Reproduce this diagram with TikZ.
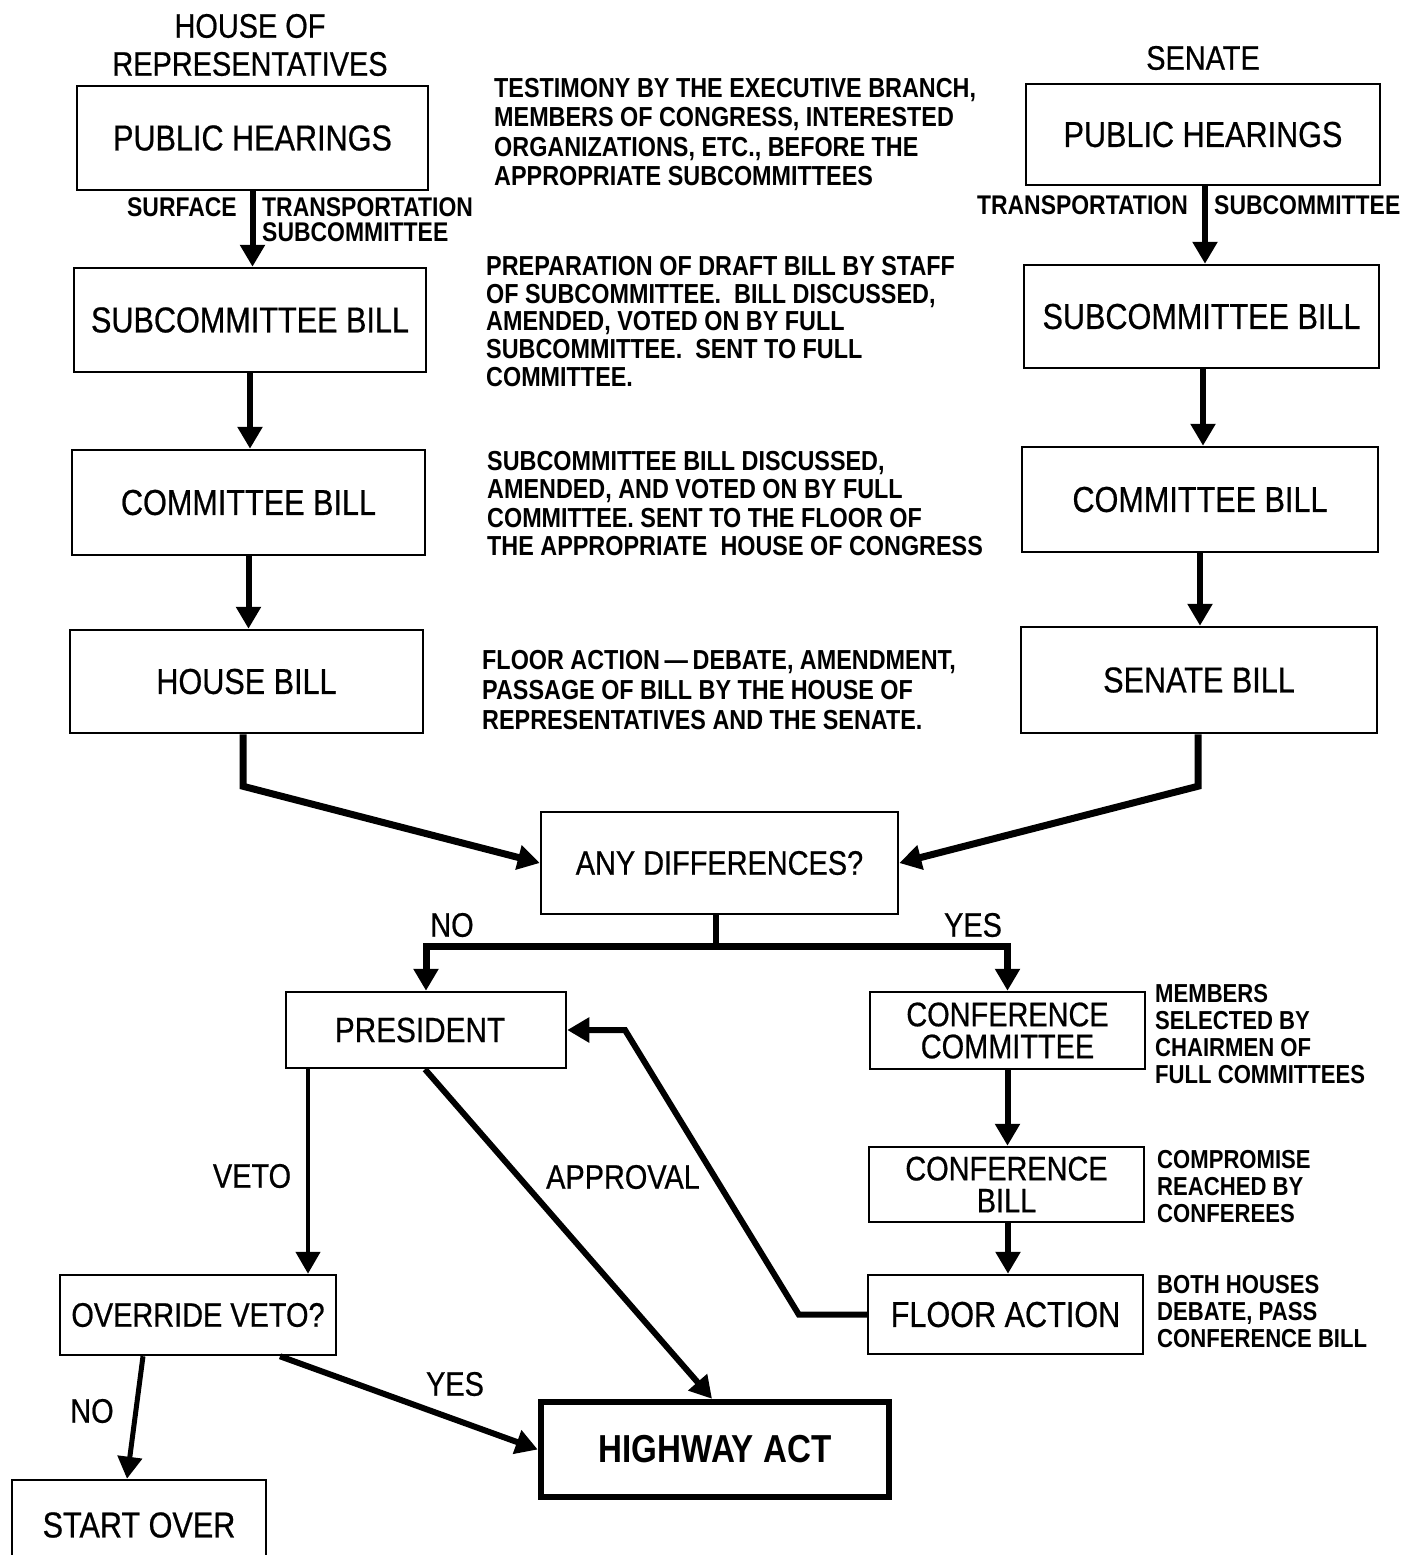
\documentclass[tikz,border=0pt]{standalone}
\usepackage{fontspec}
\setmainfont{Liberation Sans}
\newfontfamily\cond[FakeStretch=0.85]{Liberation Sans}
\newfontfamily\condm[FakeStretch=0.85,FakeBold=0.6]{Liberation Sans}
\usetikzlibrary{arrows.meta}
\tikzset{
  box/.style={draw, line width=2.5pt, inner sep=0pt, align=center, font=\condm\fontsize{36}{38}\selectfont},
  arr/.style={line width=6pt, -{Triangle[width=24pt,length=22pt]}},
  desc/.style={font=\cond\bfseries\fontsize{27.5}{#1}\selectfont, align=left, anchor=north west, inner sep=0pt},
  note/.style={font=\cond\bfseries\fontsize{26}{27}\selectfont, align=left, anchor=north west, inner sep=0pt},
  lbl/.style={font=\condm\fontsize{34}{36}\selectfont, inner sep=0pt},
  small/.style={font=\cond\bfseries\fontsize{27}{27}\selectfont, inner sep=0pt},
  ttl/.style={font=\condm\fontsize{34}{38}\selectfont, inner sep=0pt, align=center}
}
\begin{document}
\begin{tikzpicture}[x=1pt,y=-1pt]
\useasboundingbox (0,0) rectangle (1415,1555);
\fill[white] (0,0) rectangle (1415,1555);
\clip (0,0) rectangle (1415,1555);

% titles
\node[ttl] (thouse) at (250,45) {HOUSE OF\\REPRESENTATIVES};
\node[ttl] (tsen) at (1203,58) {SENATE};

% left column
\node[box, minimum width=351pt, minimum height=104pt] (hph) at (252.5,138) {PUBLIC HEARINGS};
\node[box, minimum width=352pt, minimum height=104pt] (hsb) at (250,320) {SUBCOMMITTEE BILL};
\node[box, minimum width=353pt, minimum height=105pt] (hcb) at (248.5,502.5) {COMMITTEE BILL};
\node[box, minimum width=353pt, minimum height=103pt] (hhb) at (246.5,681.5) {HOUSE BILL};

% right column
\node[box, minimum width=354pt, minimum height=101pt] (sph) at (1203,134.5) {PUBLIC HEARINGS};
\node[box, minimum width=355pt, minimum height=103pt] (ssb) at (1201.5,316.5) {SUBCOMMITTEE BILL};
\node[box, minimum width=356pt, minimum height=105pt] (scb) at (1200,499.5) {COMMITTEE BILL};
\node[box, minimum width=356pt, minimum height=106pt] (sbl) at (1199,680) {SENATE BILL};

% middle
\node[box, minimum width=357pt, minimum height=102pt, font=\condm\fontsize{34}{36}\selectfont] (any) at (719.5,863) {ANY DIFFERENCES?};
\node[box, minimum width=280pt, minimum height=76pt, font=\condm\fontsize{35}{36}\selectfont] (pres) at (426,1030) {\hspace*{-12pt}PRESIDENT};
\node[box, minimum width=275pt, minimum height=77pt, font=\condm\fontsize{34}{32}\selectfont] (cc) at (1007.5,1030.5) {CONFERENCE\\COMMITTEE};
\node[box, minimum width=275pt, minimum height=75pt, font=\condm\fontsize{34}{32}\selectfont] (cb) at (1006.5,1184.5) {CONFERENCE\\BILL};
\node[box, minimum width=275pt, minimum height=79pt] (fa) at (1005.5,1314.5) {FLOOR ACTION};
\node[box, minimum width=276pt, minimum height=80pt, font=\condm\fontsize{34}{36}\selectfont] (ov) at (198,1315) {OVERRIDE VETO?};
\node[box, line width=6.5pt, minimum width=348pt, minimum height=95pt, font=\cond\bfseries\fontsize{39}{40}\selectfont] (ha) at (715,1449.5) {HIGHWAY ACT};
\node[box, minimum width=254pt, minimum height=90pt] (so) at (139,1525) {START OVER};

% descriptions
\node[desc=29.3] (d1) at (494,78) {TESTIMONY BY THE EXECUTIVE BRANCH,\\MEMBERS OF CONGRESS, INTERESTED\\ORGANIZATIONS, ETC., BEFORE THE\\APPROPRIATE SUBCOMMITTEES};
\node[desc=27.75] (d2) at (486,256) {PREPARATION OF DRAFT BILL BY STAFF\\OF SUBCOMMITTEE.~ BILL DISCUSSED,\\AMENDED, VOTED ON BY FULL\\SUBCOMMITTEE.~ SENT TO FULL\\COMMITTEE.};
\node[desc=28.3] (d3) at (487,451) {SUBCOMMITTEE BILL DISCUSSED,\\AMENDED, AND VOTED ON BY FULL\\COMMITTEE. SENT TO THE FLOOR OF\\THE APPROPRIATE~ HOUSE OF CONGRESS};
\node[desc=30] (d4) at (482,650) {FLOOR ACTION\,—\,DEBATE, AMENDMENT,\\PASSAGE OF BILL BY THE HOUSE OF\\REPRESENTATIVES AND THE SENATE.};

\node[note] (n1) at (1155,984) {MEMBERS\\SELECTED BY\\CHAIRMEN OF\\FULL COMMITTEES};
\node[note] (n2) at (1157,1150) {COMPROMISE\\REACHED BY\\CONFEREES};
\node[note] (n3) at (1157,1275) {BOTH HOUSES\\DEBATE, PASS\\CONFERENCE BILL};

% small arrow labels
\node[small, anchor=east] (ls1) at (237,207) {SURFACE};
\node[small, anchor=west] (ls2) at (262,207) {TRANSPORTATION};
\node[small, anchor=west] (ls3) at (262,232) {SUBCOMMITTEE};
\node[small, anchor=east] (rs1) at (1188,205) {TRANSPORTATION};
\node[small, anchor=west] (rs2) at (1214,205) {SUBCOMMITTEE};

% decision labels
\node[lbl] (lno) at (452,925) {NO};
\node[lbl] (lyes) at (973,925) {YES};
\node[lbl] (lveto) at (252,1176) {VETO};
\node[lbl] (lappr) at (623,1177) {APPROVAL};
\node[lbl] (lno2) at (92,1411) {NO};
\node[lbl] (lyes2) at (455,1384) {YES};

% vertical arrows
\draw[arr] (hph.south) -- (hph.south |- hsb.north);
\draw[arr] (hsb.south) -- (hsb.south |- hcb.north);
\draw[arr] (hcb.south) -- (hcb.south |- hhb.north);
\draw[arr] ([xshift=2pt]sph.south) -- ([xshift=2pt]sph.south |- ssb.north);
\draw[arr] ([xshift=1.5pt]ssb.south) -- ([xshift=1.5pt]ssb.south |- scb.north);
\draw[arr] (scb.south) -- (scb.south |- sbl.north);
\draw[arr] (cc.south) -- (cc.south |- cb.north);
\draw[arr] ([xshift=1.5pt]cb.south) -- ([xshift=1.5pt]cb.south |- fa.north);

% bills to differences
\draw[arr, line width=7pt] ([xshift=-3.5pt]hhb.south) -- ++(0,52) -- (any.west);
\draw[arr, line width=7pt] ([xshift=-1pt]sbl.south) -- ++(0,52) -- (any.east);

% differences split
\draw[line width=6pt] ([xshift=-3.5pt]any.south) -- ++(0,31) coordinate (split);
\draw[arr, line width=7pt] (split) -| (pres.north);
\draw[arr, line width=7pt] (split) -| (cc.north);

% floor action back to president
\draw[arr] (fa.west) -- ++(-68,0) -- (625,1030) -- (pres.east);

% president outcomes
\draw[arr, line width=4.5pt] ([xshift=-118pt]pres.south) -- ([xshift=-118pt]pres.south |- ov.north);
\draw[arr] ([xshift=-1pt]pres.south) -- ([xshift=-3pt]ha.north);

% override outcomes
\draw[arr, line width=5pt] ([xshift=-55pt]ov.south) -- ([xshift=-12pt]so.north);
\draw[arr] ([xshift=82pt]ov.south) -- (ha.west);
\end{tikzpicture}
\end{document}
